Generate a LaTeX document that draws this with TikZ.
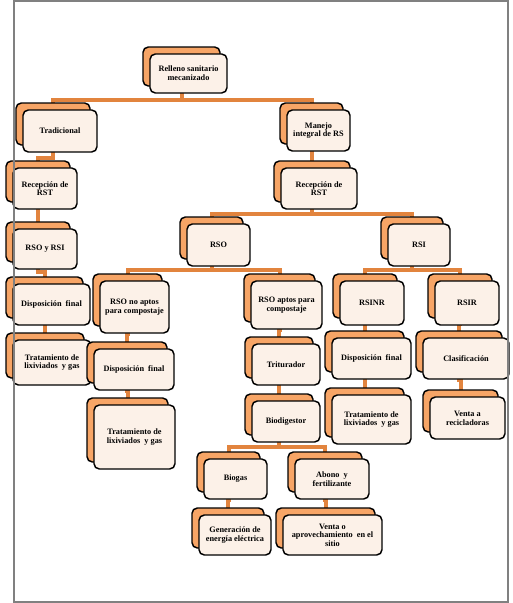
\documentclass[tikz,border=0pt]{standalone}
\usepackage{fontspec}
\setmainfont{Liberation Serif}
\usetikzlibrary{backgrounds}
\definecolor{rsline}{RGB}{226,132,62}
\definecolor{rsback}{RGB}{247,165,102}
\definecolor{rsfront}{RGB}{252,241,232}
\definecolor{rsframe}{RGB}{128,128,128}
\begin{document}
\begin{tikzpicture}[x=0.75pt, y=-0.75pt,
  backbox/.style={draw=black, line width=1.1pt, rounded corners=4pt, fill=rsback, inner sep=0pt, outer sep=0pt},
  frontbox/.style={draw=black, line width=1.1pt, rounded corners=4pt, fill=rsfront, inner sep=1pt, outer sep=0pt,
    align=center, font=\fontsize{6.2}{6.5}\selectfont\bfseries},
  conn/.style={draw=rsline, line width=3pt}]
% Organigrama exported in pixel units (y grows downwards)
\def\px{0.75pt}
\providecommand{\rsFrameWidth}{1.5pt}
% back box given by its corners, front box shifted 7px right and down
\providecommand{\rsbox}[6]{%
  \node[backbox, minimum width={(#4-#2)*\px}, minimum height={(#5-#3)*\px}] (#1) at ({(#2+#4)/2},{(#3+#5)/2}) {};
  \node[frontbox, minimum width={(#4-#2)*\px}, minimum height={(#5-#3)*\px}] (#1f) at ([shift={(7,7)}]#1.center) {#6};}
\useasboundingbox (0,0) rectangle (512,603);
% Boxes, top level
\rsbox{root}{143}{47}{220}{86}{Relleno sanitario\\mecanizado}
\rsbox{trad}{16}{103}{90}{145}{Tradicional}
\rsbox{mane}{280}{103}{343}{144}{Manejo\\integral de RS}
% Left branch
\rsbox{recl}{6}{161}{70}{202}{Recepción de\\RST}
\rsbox{rsorsi}{6}{222}{70}{262}{RSO y RSI}
\rsbox{displ}{6}{277}{83}{318}{Disposición~ final}
\rsbox{tratl}{6}{333}{84}{378}{Tratamiento de\\lixiviados~ y gas}
% Right branch
\rsbox{recr}{274}{161}{350}{202}{Recepción de\\RST}
\rsbox{rso}{180}{217}{243}{259}{RSO}
\rsbox{rsi}{381}{217}{443}{259}{RSI}
\rsbox{noap}{93}{274}{162}{326}{RSO no aptos\\para compostaje}
\rsbox{disnoap}{87}{342}{167}{383}{Disposición~ final}
\rsbox{tranoap}{87}{398}{168}{462}{Tratamiento de\\lixiviados~ y gas}
\rsbox{apt}{244}{274}{315}{322}{RSO aptos para\\compostaje}
\rsbox{trit}{245}{337}{313}{378}{Triturador}
\rsbox{biod}{245}{394}{313}{435}{Biodigestor}
\rsbox{biog}{197}{452}{260}{492}{Biogas}
\rsbox{abon}{288}{452}{362}{492}{Abono~ y\\fertilizante}
\rsbox{gene}{192}{508}{264}{548}{Generación de\\energía eléctrica}
\rsbox{vent}{276}{508}{375}{548}{Venta o\\aprovechamiento~ en el\\sitio}
\rsbox{rsinr}{333}{274}{397}{318}{RSINR}
\rsbox{rsir}{428}{274}{492}{318}{RSIR}
\rsbox{disnr}{325}{331}{404}{372}{Disposición~ final}
\rsbox{tranr}{325}{388}{404}{437}{Tratamiento de\\lixiviados~ y gas}
\rsbox{clas}{416}{331}{502}{372}{Clasificación}
\rsbox{venr}{423}{390}{498}{432}{Venta a\\recicladoras}
% Connectors behind the boxes
\begin{pgfonlayer}{background}
  \foreach \a/\b/\d in {root/trad/14, root/mane/14, trad/recl/13, mane/recr/8,
      recl/rsorsi/10, rsorsi/displ/10, displ/tratl/8, recr/rso/12, recr/rsi/12,
      rso/noap/11, rso/apt/11, noap/disnoap/8, disnoap/tranoap/8, apt/trit/8,
      trit/biod/8, biod/biog/12, biod/abon/12, biog/gene/8, abon/vent/8,
      rsi/rsinr/11, rsi/rsir/11, rsinr/disnr/6, disnr/tranr/8, rsir/clas/6, clas/venr/8}
    \draw[conn] (\a.south) -- ++(0,\d) -| (\b.north);
\end{pgfonlayer}
% Outer frame
\draw[draw=rsframe, line width=\rsFrameWidth] (14,1) rectangle (508,602);
\end{tikzpicture}
\end{document}
